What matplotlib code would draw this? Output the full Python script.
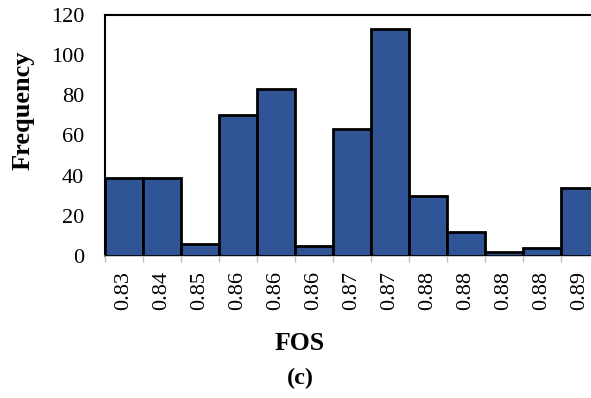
import matplotlib
matplotlib.use("Agg")
import matplotlib.pyplot as plt
import numpy as np

# FOS histogram bins and counts
bin_labels = ["0.83", "0.84", "0.85", "0.86", "0.86", "0.86", "0.87",
              "0.87", "0.88", "0.88", "0.88", "0.88", "0.89"]
frequency = [39, 39, 6, 70, 83, 5, 63, 113, 30, 12, 2, 4, 34]
y_ticks = [0, 20, 40, 60, 80, 100, 120]

plt.rcParams["font.family"] = ["Liberation Serif", "DejaVu Serif"]

W, H = 591, 398
fig = plt.figure(figsize=(W / 100, H / 100), dpi=100)
ax = fig.add_axes([105 / W, (H - 256) / H, 494 / W, 241 / H])

x = np.arange(len(frequency))
ax.bar(x, frequency, width=1.0, color="#2F5597", edgecolor="black",
       linewidth=2.0, zorder=3)

ax.set_xlim(-0.5, len(frequency) - 0.5)
ax.set_ylim(0, 120)
ax.set_yticks(y_ticks)
ax.set_yticklabels([str(v) for v in y_ticks], fontsize=16)
ax.set_xticks(x)
ax.set_xticklabels(bin_labels, rotation=90, fontsize=16)
ax.set_xticks(np.arange(len(frequency) + 1) - 0.5, minor=True)

ax.tick_params(axis="y", length=0, pad=15)
ax.tick_params(axis="x", which="major", length=0, pad=11)
ax.tick_params(axis="x", which="minor", length=4, color="#BFBFBF", width=1)

for side in ("left", "top"):
    ax.spines[side].set_color("black")
    ax.spines[side].set_linewidth(1.5)
ax.spines["right"].set_visible(False)
ax.spines["bottom"].set_color("#BFBFBF")
ax.spines["bottom"].set_linewidth(1.2)

fig.text(23 / W, 1 - 110 / H, "Frequency", rotation=90, fontsize=19,
         fontweight="bold", ha="center", va="center")
fig.text(300 / W, 1 - 343 / H, "FOS", fontsize=18.5, fontweight="bold",
         ha="center", va="center")
fig.text(300 / W, 1 - 378 / H, "(c)", fontsize=17.5, fontweight="bold",
         ha="center", va="center")

fig.savefig("out.png", dpi=100)
